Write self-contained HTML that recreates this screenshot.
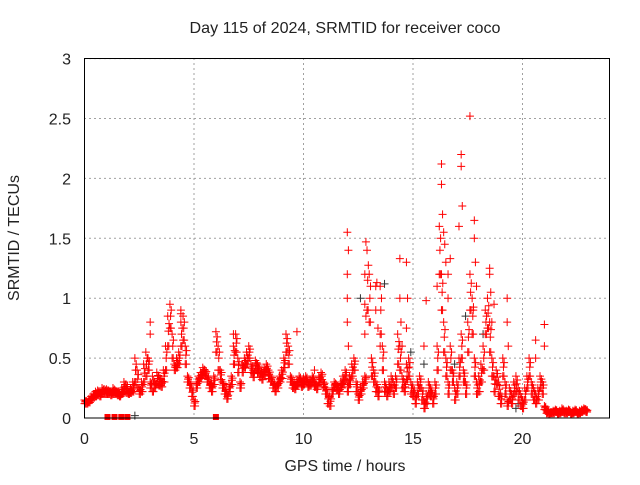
<!DOCTYPE html>
<html><head><meta charset="utf-8"><style>
body{margin:0;background:#fff}
svg text{font-family:"Liberation Sans",sans-serif;font-size:16px;fill:#222}
</style></head><body>
<svg id="chart" width="640" height="480" viewBox="0 0 640 480" xmlns="http://www.w3.org/2000/svg">
<text x="345" y="33" text-anchor="middle" textLength="311" lengthAdjust="spacingAndGlyphs">Day 115 of 2024, SRMTID for receiver coco</text>
<text x="345" y="471" text-anchor="middle" textLength="121" lengthAdjust="spacingAndGlyphs">GPS time / hours</text>
<text transform="translate(19,238) rotate(-90)" text-anchor="middle">SRMTID / TECUs</text>
<g id="grid"></g><g id="ticks"></g><g id="marks"></g>
<rect x="84.5" y="58.5" width="525" height="359.5" fill="none" stroke="#000" stroke-width="1"/>
</svg>
<script>
const xTicks=[0,5,10,15,20];
const yTicks=[0,0.5,1,1.5,2,2.5,3];
const yTickLabels=["0","0.5","1","1.5","2","2.5","3"];
const baseStart=0, baseStep=0.1;
const baseValues=[0.15,0.14,0.16,0.18,0.2,0.22,0.23,0.21,0.25,0.24,
0.24,0.23,0.22,0.25,0.23,0.22,0.2,0.25,0.3,0.28,
0.22,0.25,0.3,0.5,0.4,0.25,0.3,0.45,0.55,0.5,
0.3,0.35,0.3,0.38,0.35,0.32,0.4,0.6,0.85,0.95,
0.7,0.45,0.5,0.55,0.8,0.85,0.6,0.35,0.3,0.25,
0.15,0.3,0.35,0.38,0.42,0.4,0.35,0.3,0.28,0.35,
0.72,0.6,0.4,0.3,0.25,0.2,0.28,0.35,0.6,0.7,
0.5,0.3,0.45,0.5,0.55,0.6,0.45,0.4,0.48,0.45,
0.4,0.38,0.42,0.45,0.4,0.35,0.3,0.28,0.3,0.35,
0.4,0.5,0.7,0.6,0.35,0.3,0.28,0.32,0.35,0.3,
0.33,0.35,0.3,0.32,0.35,0.3,0.28,0.35,0.38,0.3,
0.25,0.2,0.18,0.25,0.3,0.28,0.25,0.3,0.35,0.4,
0.3,0.35,0.45,0.5,0.3,0.2,0.25,0.3,0.35,1.4,
1.2,0.5,0.4,0.3,0.25,1.1,0.6,0.3,0.25,0.3,
0.35,0.3,0.35,0.7,0.6,0.35,0.3,0.45,0.5,0.3,
0.25,0.2,0.3,0.35,0.25,0.15,0.2,0.3,0.25,0.2,
0.3,0.6,1.6,1.2,0.8,0.5,0.3,0.6,0.4,0.25,
0.3,0.5,0.7,0.4,0.3,0.8,1.2,1.0,0.5,0.3,
0.35,0.45,0.6,0.9,1.0,0.8,0.5,0.35,0.4,0.3,
0.2,0.5,0.3,0.15,0.25,0.2,0.3,0.35,0.25,0.2,
0.15,0.25,0.35,0.5,0.3,0.25,0.2,0.25,0.35,0.3,
0.1,0.06,0.05,0.05,0.06,0.07,0.05,0.06,0.08,0.06,
0.06,0.07,0.05,0.06,0.07,0.05,0.06,0.07,0.08,0.07];
const lowValues=[0.12,0.12,0.13,0.15,0.17,0.18,0.19,0.18,0.2,0.2,
0.2,0.2,0.19,0.2,0.2,0.19,0.18,0.2,0.22,0.21,
0.2,0.21,0.22,0.3,0.25,0.2,0.22,0.3,0.35,0.4,
0.25,0.22,0.25,0.28,0.27,0.26,0.3,0.4,0.6,0.75,
0.5,0.4,0.42,0.45,0.6,0.65,0.45,0.3,0.25,0.18,
0.1,0.25,0.3,0.33,0.36,0.35,0.3,0.25,0.22,0.28,
0.55,0.4,0.32,0.25,0.2,0.16,0.22,0.28,0.45,0.55,
0.38,0.25,0.38,0.42,0.45,0.5,0.38,0.34,0.4,0.38,
0.34,0.32,0.36,0.38,0.33,0.3,0.25,0.22,0.25,0.3,
0.33,0.42,0.55,0.45,0.3,0.25,0.24,0.27,0.3,0.26,
0.28,0.3,0.26,0.27,0.3,0.26,0.24,0.3,0.32,0.26,
0.2,0.12,0.1,0.2,0.25,0.23,0.2,0.25,0.28,0.32,
0.22,0.28,0.35,0.4,0.22,0.15,0.2,0.25,0.3,0.9,
0.8,0.35,0.3,0.22,0.18,0.7,0.4,0.22,0.18,0.22,
0.25,0.2,0.25,0.45,0.4,0.25,0.22,0.32,0.35,0.2,
0.18,0.12,0.2,0.25,0.15,0.08,0.12,0.2,0.18,0.12,
0.2,0.4,1.2,0.9,0.55,0.35,0.2,0.4,0.3,0.15,
0.2,0.35,0.5,0.3,0.2,0.55,0.9,0.7,0.35,0.2,
0.22,0.3,0.4,0.7,0.75,0.55,0.35,0.22,0.28,0.18,
0.12,0.35,0.2,0.1,0.15,0.12,0.2,0.22,0.15,0.1,
0.08,0.15,0.25,0.35,0.2,0.15,0.12,0.15,0.25,0.2,
0.07,0.04,0.03,0.04,0.04,0.05,0.03,0.04,0.05,0.04,
0.04,0.05,0.03,0.04,0.05,0.03,0.04,0.05,0.06,0.05];
const spikeTimes=[3.0,3.0,4.4,4.4,12.0,12.0,12.0,12.0,12.05,12.05,12.8,12.8,12.8,12.85,12.85,13.3,13.35,13.3,13.4,13.5,14.4,14.4,14.45,14.5,14.7,14.75,14.7,15.6,15.5,16.1,16.3,16.3,16.35,16.4,16.45,16.5,16.6,16.6,16.7,17.2,17.2,17.25,17.1,17.6,17.8,17.8,17.85,17.9,17.75,18.5,18.5,18.55,18.6,18.7,19.3,19.3,19.35,21.0,21.0,20.6,20.6,10.5,9.7,6.8];
const spikeValues=[0.8,0.7,0.87,0.9,0.8,1.0,1.2,1.55,1.4,0.6,0.7,0.95,1.2,1.47,0.85,1.1,1.13,0.9,0.75,0.6,1.33,1.0,0.8,0.6,1.3,1.0,0.75,0.98,0.6,1.1,1.95,2.12,1.7,1.55,1.45,1.3,1.2,1.0,1.33,2.2,2.1,1.77,1.6,2.52,1.65,1.5,1.3,1.1,0.9,1.25,1.2,1.05,0.8,0.95,1.0,0.8,0.6,0.78,0.6,0.65,0.5,0.4,0.72,0.7];
const zeroTimes=[1.05,1.37,1.68,1.96,6.0];
const grayTimes=[12.6,13.7,14.9,15.5,16.9,17.4,18.2,19.7,19.8,20.9,2.3];
const grayValues=[1.0,1.12,0.55,0.45,0.45,0.85,0.7,0.08,0.12,0.3,0.02];

const X=t=>84.5+t*21.9, Y=v=>418-v*119.8;
const ns="http://www.w3.org/2000/svg";
const grid=document.getElementById('grid'),ticks=document.getElementById('ticks'),marks=document.getElementById('marks');
function mk(tag,a,p){const e=document.createElementNS(ns,tag);for(const k in a)e.setAttribute(k,a[k]);p.appendChild(e);return e;}
xTicks.forEach(t=>{
 const g=mk('line',{x1:X(t),x2:X(t),y1:58,y2:418,stroke:'#a0a0a0','stroke-dasharray':'2,3'},grid);
 
 
 const tx=mk('text',{x:X(t),y:444,'text-anchor':'middle'},ticks);tx.textContent=t;
 
 
});
yTicks.forEach((v,i)=>{
 const g=mk('line',{x1:84,x2:610,y1:Y(v),y2:Y(v),stroke:'#a0a0a0','stroke-dasharray':'2,3'},grid);
 
 
 const tx=mk('text',{x:71,y:Y(v)+6,'text-anchor':'end'},ticks);tx.textContent=yTickLabels[i];
 
 
});
function plus(t,v,c){
 const x=X(t),y=Y(v);
 const p=mk('path',{d:`M${x-4},${y}H${x+4}M${x},${y-4}V${y+4}`,stroke:c,'stroke-width':1,fill:'none'},marks);
 
 
}
grayTimes.forEach((t,i)=>plus(t,grayValues[i],'#333'));
baseValues.forEach((v,i)=>{const t=baseStart+i*baseStep,m=(v+lowValues[i])/2;
 plus(t,v,'#f00');plus(t+0.03,m,'#f00');plus(t+0.06,(v+m)/2,'#f00');plus(t+0.05,lowValues[i],'#f00');plus(t,lowValues[i],'#f00');});
spikeTimes.forEach((t,i)=>plus(t,spikeValues[i],'#f00'));
zeroTimes.forEach(t=>{
 const r=mk('rect',{x:X(t)-3,y:Y(0)-4,width:6,height:6,fill:'#f00'},marks);
 
 
});
</script>
</body></html>
